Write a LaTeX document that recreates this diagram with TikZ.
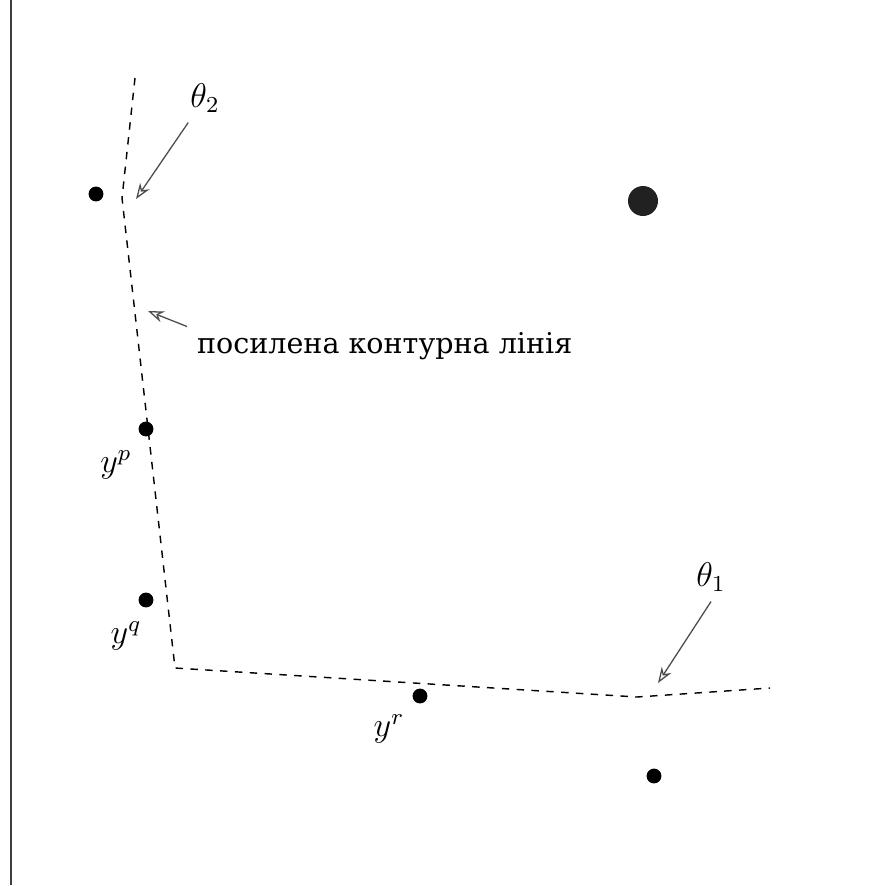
\documentclass[tikz,border=0pt]{standalone}
\usepackage{amsmath}
\usepackage{fontspec}
\newfontfamily\cyrfont{DejaVu Serif}
\usetikzlibrary{arrows.meta}

\begin{document}
\begin{tikzpicture}[x=0.35pt,y=-0.35pt,
  dot/.style={circle, fill=black, inner sep=0pt, minimum size=5.2pt},
  bigdot/.style={circle, fill=black!87, inner sep=0pt, minimum size=10.5pt},
  lbl/.style={font=\fontsize{11.5}{13}\selectfont},
  contour/.style={dash pattern=on 2.6pt off 2.6pt, line width=0.5pt},
  pointer/.style={-{Stealth[open,length=5.5pt,width=4pt]}, draw=black!70, line width=0.45pt}]
  \useasboundingbox (0,0) rectangle (891,885);

  % axis on the left
  \coordinate (ax1) at (11,0);
  \coordinate (ax2) at (11,885);
  \draw[line width=0.8pt, black!75] (ax1) -- (ax2);

  % contour line
  \coordinate (c0) at (135,78);
  \coordinate (k2) at (122,198);
  \coordinate (corner) at (175,668);
  \coordinate (k1) at (637,697);
  \coordinate (c5) at (770,688);
  \draw[contour] (c0) -- (k2) -- (corner) -- (k1) -- (c5);

  % points
  \node[dot] (d1) at (96,194) {};
  \node[dot] (yp) at (146,429) {};
  \node[dot] (yq) at (146,600) {};
  \node[dot] (yr) at (420,696) {};
  \node[dot] (d2) at (654,776) {};
  \node[bigdot] (big) at (643,201) {};

  \node[lbl] (lp) at (116,465) {$y^p$};
  \node[lbl] (lq) at (126,636) {$y^q$};
  \node[lbl] (lr) at (389,729) {$y^r$};

  % angles
  \node[lbl] (t2) at (205,98) {$\theta_2$};
  \node[lbl] (t1) at (711,577) {$\theta_1$};
  \coordinate (a2) at (136,199);
  \coordinate (a1) at (658,683);
  \draw[pointer] (t2) -- (a2);
  \draw[pointer] (t1.south) -- (a1);

  % label of the contour
  \node[anchor=west] (txt) at (187,346) {\cyrfont\fontsize{10}{12}\selectfont посилена контурна лінія};
  \coordinate (a3) at (148,311);
  \draw[pointer] ([yshift=-1.5pt]txt.north west) -- (a3);
\end{tikzpicture}
\end{document}
